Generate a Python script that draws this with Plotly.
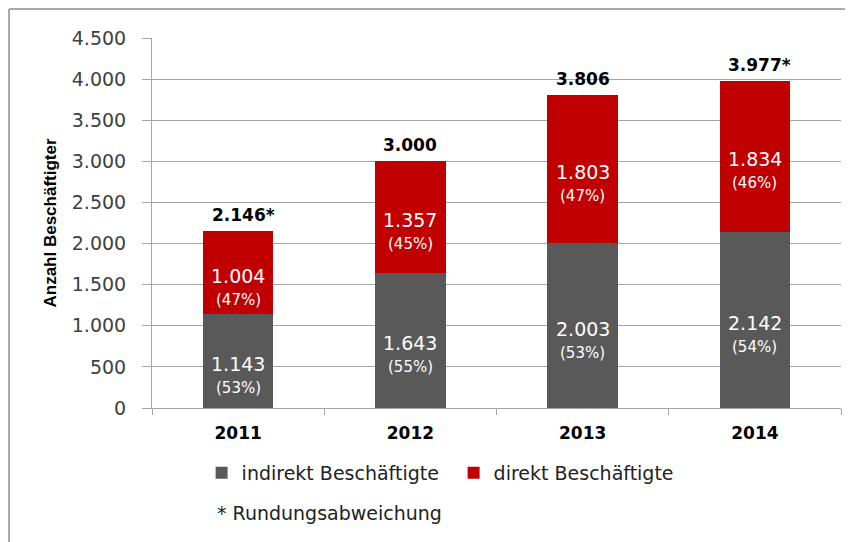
import plotly.graph_objects as go

# Daten
jahre = ['2011', '2012', '2013', '2014']
indirekt = [1143, 1643, 2003, 2142]
direkt = [1004, 1357, 1803, 1834]
indirekt_pct = [53, 55, 53, 54]
direkt_pct = [47, 45, 47, 46]
gesamt_labels = ['2.146*', '3.000', '3.806', '3.977*']
y_ticks = [0, 500, 1000, 1500, 2000, 2500, 3000, 3500, 4000, 4500]

GRAU = '#595959'
ROT = '#c00000'
LINIE = '#a6a6a6'
FONT = 'DejaVu Sans'

# Seite hat 8px Body-Rand -> Figur entsprechend kleiner
W, H = 845, 534
L, T, R, B = 144, 30, 12, 134
PW, PH = W - L - R, H - T - B


def de(v):
    # deutsches Tausendertrennzeichen
    return f'{v:,}'.replace(',', '.')


fig = go.Figure()
fig.add_trace(go.Bar(
    x=jahre, y=indirekt, name='indirekt Beschäftigte',
    marker=dict(color=GRAU, line=dict(width=0)), width=0.41,
    hoverinfo='skip',
))
fig.add_trace(go.Bar(
    x=jahre, y=direkt, name='direkt Beschäftigte',
    marker=dict(color=ROT, line=dict(width=0)), width=0.41,
    hoverinfo='skip',
))

annotations = []
for i, jahr in enumerate(jahre):
    segmente = [
        (indirekt[i] / 2, indirekt[i], indirekt_pct[i]),
        (indirekt[i] + direkt[i] / 2, direkt[i], direkt_pct[i]),
    ]
    for mitte, wert, pct in segmente:
        annotations.append(dict(
            x=i, y=mitte, text=de(wert), showarrow=False,
            yanchor='middle', yshift=-3,
            font=dict(family=FONT, size=19, color='white'),
        ))
        annotations.append(dict(
            x=i, y=mitte, text=f'({pct}%)', showarrow=False,
            yanchor='middle', yshift=-27,
            font=dict(family=FONT, size=15, color='white'),
        ))
    label = gesamt_labels[i]
    annotations.append(dict(
        x=i, y=indirekt[i] + direkt[i], text=f'<b>{label}</b>',
        showarrow=False, yanchor='bottom', yshift=4,
        xshift=5 if label.endswith('*') else 0,
        font=dict(family=FONT, size=17, color='black'),
    ))

annotations.append(dict(
    xref='paper', yref='paper', x=0.091, y=-0.285,
    xanchor='left', yanchor='middle', showarrow=False,
    text='* Rundungsabweichung',
    font=dict(family=FONT, size=19, color='#222222'),
))

rand_x = (1 - L) / PW
rand_y = 1 + (T - 1) / PH

fig.update_layout(
    width=W, height=H,
    margin=dict(l=L, r=R, t=T, b=B, autoexpand=False),
    plot_bgcolor='white', paper_bgcolor='white',
    barmode='stack',
    separators=',.',
    showlegend=True,
    legend=dict(
        orientation='h', x=0.072, y=-0.124,
        xanchor='left', yanchor='top',
        font=dict(family=FONT, size=19, color='#222222'),
        entrywidth=207, entrywidthmode='pixels',
        traceorder='normal',
    ),
    xaxis=dict(
        type='category', range=[-0.5, 3.5],
        showline=True, linecolor=LINIE, linewidth=1,
        ticks='outside', tickson='boundaries', ticklen=6, tickcolor=LINIE,
        tickfont=dict(family=FONT, size=17, color='black', weight='bold'),
        ticklabelstandoff=10,
    ),
    yaxis=dict(
        range=[0, 4500], tickvals=y_ticks, tickformat=',d',
        showline=True, linecolor=LINIE, linewidth=1,
        showgrid=True, gridcolor=LINIE, gridwidth=1,
        ticks='outside', ticklen=9, tickcolor=LINIE,
        tickfont=dict(family=FONT, size=19, color='#404040'),
        ticklabelstandoff=12,
        zeroline=False,
        title=dict(
            text='<b>Anzahl Beschäftigter</b>',
            font=dict(family='Liberation Sans', size=17, color='black'),
            standoff=10,
        ),
    ),
    annotations=annotations,
    shapes=[
        dict(type='line', xref='paper', yref='paper',
             x0=rand_x, x1=rand_x, y0=rand_y, y1=-B / PH - 0.05,
             line=dict(color='#8c8c8c', width=1.5)),
        dict(type='line', xref='paper', yref='paper',
             x0=rand_x, x1=1 + R / PW + 0.05, y0=rand_y, y1=rand_y,
             line=dict(color='#8c8c8c', width=1.5)),
    ],
)

fig.write_html('out.html')
